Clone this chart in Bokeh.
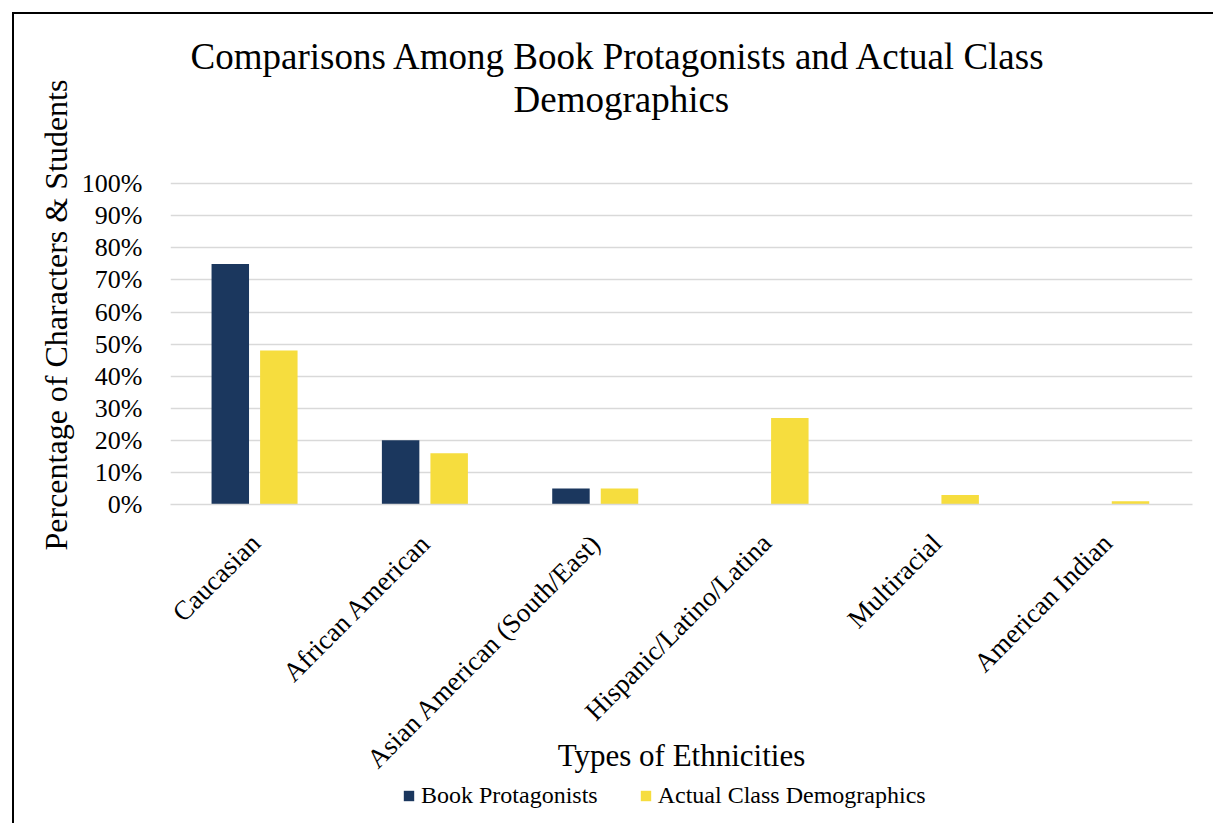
import math
from bokeh.plotting import figure
from bokeh.layouts import column
from bokeh.models import (ColumnDataSource, FactorRange, Range1d, NumeralTickFormatter,
                          Title, Legend, LegendItem, FixedTicker)
from bokeh.transform import dodge
from bokeh.embed import file_html
from bokeh.resources import INLINE

categories = ["Caucasian", "African American", "Asian American (South/East)",
              "Hispanic/Latino/Latina", "Multiracial", "American Indian"]
book_protagonists = [0.75, 0.20, 0.05, 0.0, 0.0, 0.0]
actual_class = [0.48, 0.16, 0.05, 0.27, 0.03, 0.01]
y_ticks = [0.0, 0.1, 0.2, 0.3, 0.4, 0.5, 0.6, 0.7, 0.8, 0.9, 1.0]
series_names = ["Book Protagonists", "Actual Class Demographics"]

title_lines = ["Comparisons Among Book Protagonists and Actual Class", "Demographics"]
x_title = "Types of Ethnicities"
y_title = "Percentage of Characters & Students"

NAVY = "#1b375e"
YELLOW = "#f6dd3e"
GRID = "#d9d9d9"
FONT = "Liberation Serif"

source = ColumnDataSource(dict(cat=categories, book=book_protagonists, actual=actual_class))

W = 1201
H_MAIN = 766
H_LEG = 43

p = figure(width=W, height=H_MAIN, x_range=FactorRange(*categories, range_padding=0),
           y_range=Range1d(0, 1.01), output_backend="svg", toolbar_location=None,
           min_border_left=156, min_border_right=23, min_border_top=166, min_border_bottom=276)
p.outline_line_color = None
p.background_fill_color = "white"
p.border_fill_color = "white"

r1 = p.vbar(x=dodge("cat", -0.149, range=p.x_range), top="book", width=0.22,
            source=source, fill_color=NAVY, line_color=None)
r2 = p.vbar(x=dodge("cat", 0.136, range=p.x_range), top="actual", width=0.22,
            source=source, fill_color=YELLOW, line_color=None)

p.xgrid.grid_line_color = None
p.ygrid.grid_line_color = GRID
p.ygrid.grid_line_width = 1.5
p.yaxis.ticker = FixedTicker(ticks=y_ticks)
p.yaxis.formatter = NumeralTickFormatter(format="0%")
p.yaxis.axis_line_color = None
p.yaxis.major_tick_line_color = None
p.yaxis.minor_tick_line_color = None
p.yaxis.major_label_text_font = FONT
p.yaxis.major_label_text_font_size = "26px"
p.yaxis.major_label_text_color = "black"
p.yaxis.major_label_standoff = 22

p.xaxis.axis_line_color = GRID
p.xaxis.axis_line_width = 1.5
p.xaxis.major_tick_line_color = None
p.xaxis.minor_tick_line_color = None
p.xaxis.major_label_orientation = math.pi / 4
p.xaxis.major_label_text_font = FONT
p.xaxis.major_label_text_font_size = "27px"
p.xaxis.major_label_text_color = "black"
p.xaxis.major_label_standoff = 28
p.xaxis.axis_label = x_title
p.xaxis.axis_label_text_font = FONT
p.xaxis.axis_label_text_font_size = "31px"
p.xaxis.axis_label_text_font_style = "normal"
p.xaxis.axis_label_text_color = "black"
p.xaxis.axis_label_standoff = -50

# Title: spacer nearest the frame, then line 2, then line 1
spacer = Title(text=" ", text_font=FONT, text_font_size="10px", standoff=48)
t2 = Title(text=title_lines[1], align="left", offset=343, text_font=FONT,
           text_font_size="37px", text_font_style="normal", text_color="black", standoff=0)
t1 = Title(text=title_lines[0], align="left", offset=20, text_font=FONT,
           text_font_size="37px", text_font_style="normal", text_color="black", standoff=0)
p.add_layout(spacer, "above")
p.add_layout(t2, "above")
p.add_layout(t1, "above")

# Y axis title on the left
ty = Title(text=y_title, align="left", offset=-46, text_font=FONT, text_font_size="32px",
           text_font_style="normal", text_color="black", standoff=10)
p.add_layout(ty, "left")

# Legend strip below the chart (frame aligned with the chart frame by the column layout)
lf = figure(width=W, height=H_LEG, x_range=Range1d(0, 1), y_range=Range1d(0, 1),
            output_backend="svg", toolbar_location=None, min_border=0)
lf.axis.visible = False
lf.grid.visible = False
lf.outline_line_color = None
lf.background_fill_color = "white"
lf.border_fill_color = "white"
# legend swatches only: zero-height bars placed outside the visible range
lr1 = lf.vbar(x=[-10], top=[0], width=1, fill_color=NAVY, line_color=None)
lr2 = lf.vbar(x=[-10], top=[0], width=1, fill_color=YELLOW, line_color=None)
legend = Legend(items=[LegendItem(label=series_names[0], renderers=[lr1]),
                       LegendItem(label=series_names[1], renderers=[lr2])],
                orientation="horizontal", location=(232, 14),
                glyph_width=13, glyph_height=13, label_standoff=6, spacing=41,
                padding=0, margin=0, border_line_color=None, background_fill_alpha=0,
                label_text_font=FONT, label_text_font_size="24px", label_text_color="black")
lf.add_layout(legend, "center")

layout = column(p, lf, spacing=0, margin=(12, 0, 0, 12),
                styles={"border-left": "2px solid black", "border-top": "2px solid black"})

open("out.html", "w").write(file_html(layout, INLINE))
